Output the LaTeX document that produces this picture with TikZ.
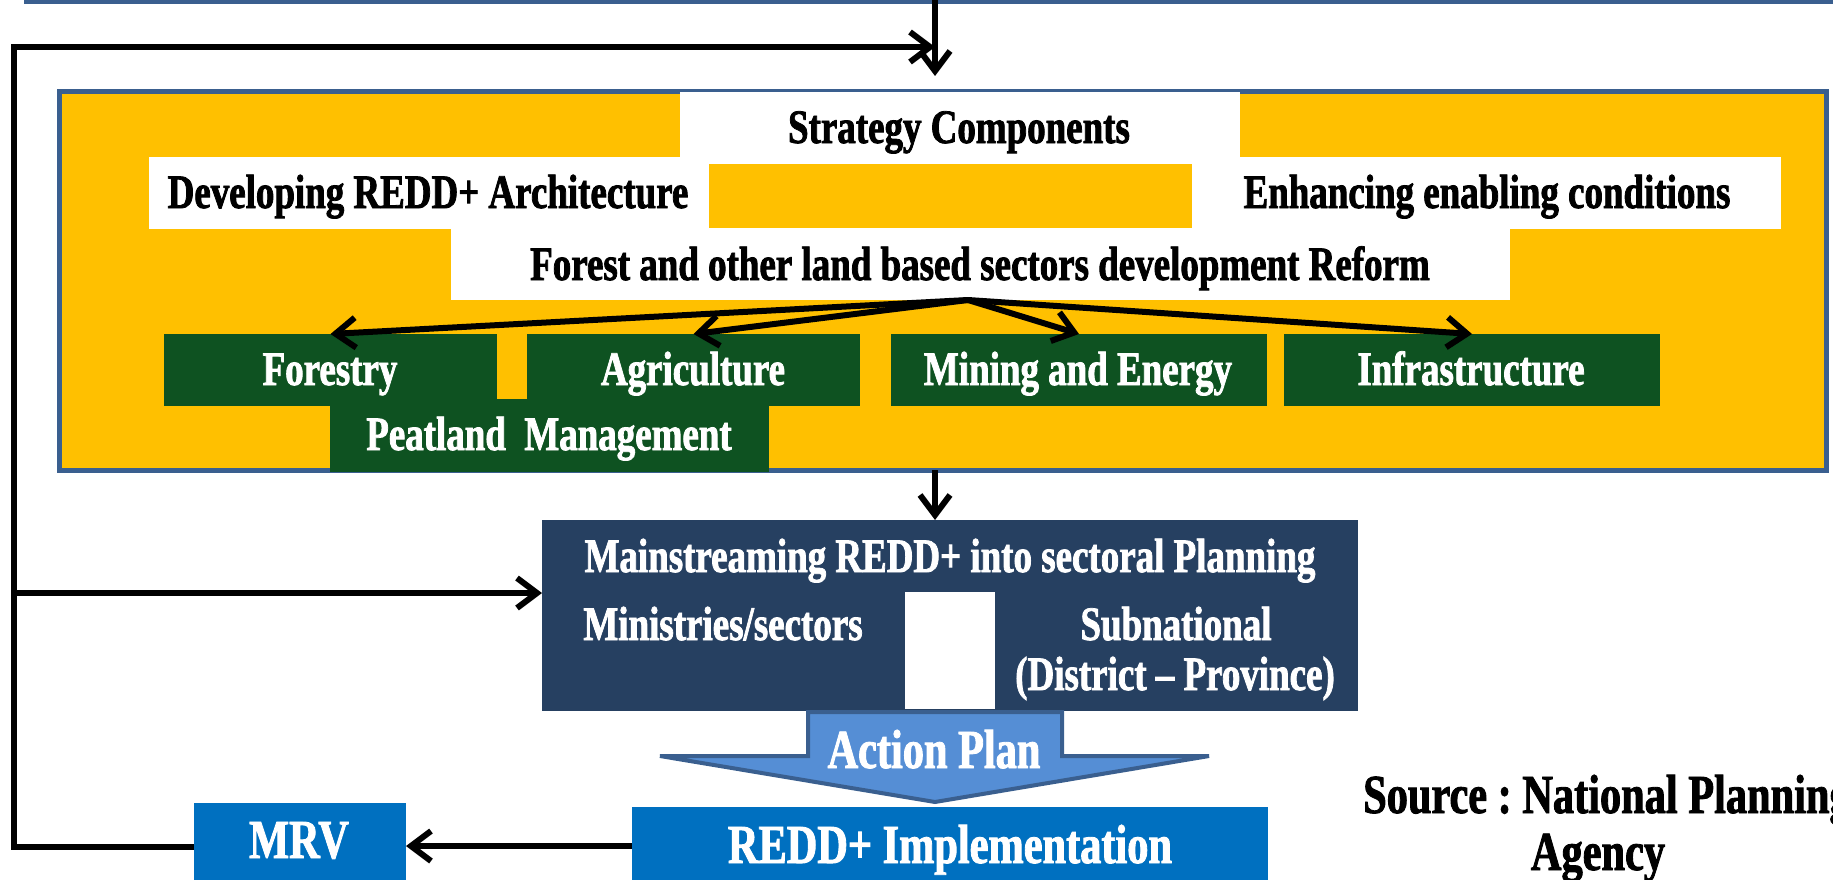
\documentclass[tikz,border=0pt]{standalone}
\usepackage{fontspec}
\setmainfont{Liberation Serif}[FakeStretch=0.77, BoldFeatures={FakeBold=1.6}]
\usetikzlibrary{arrows.meta}
\frenchspacing
\definecolor{yel}{HTML}{FFC000}
\definecolor{bordblue}{HTML}{3A5F8F}
\definecolor{grn}{HTML}{0E5221}
\definecolor{navy}{HTML}{264061}
\definecolor{apblue}{HTML}{558ED5}
\definecolor{implblue}{HTML}{0070C0}
\tikzset{
  rbox/.style={rectangle, inner sep=0pt, outer sep=0pt, anchor=north west},
  whitebox/.style={rbox, fill=white},
  greenbox/.style={rbox, fill=grn},
  lbl/.style={inner sep=0pt, anchor=base, font=\bfseries\fontsize{48}{50}\selectfont},
  biglbl/.style={inner sep=0pt, anchor=base, font=\bfseries\fontsize{55}{57}\selectfont},
  wlbl/.style={lbl, text=white},
  wbiglbl/.style={biglbl, text=white},
  arr/.style={line width=6pt, -{Straight Barb[length=20pt,width=30pt]}},
}
\begin{document}
\begin{tikzpicture}[x=1pt,y=-1pt]
\useasboundingbox (0,0) rectangle (1833,880);
% top box edge (cut off)
\draw[bordblue, line width=4pt] (26,-20) rectangle (1860,2);
% yellow strategy panel
\node[rbox, fill=yel, draw=bordblue, line width=5pt, minimum width=1767pt, minimum height=378pt] (panel) at (59,92) {};
\node[whitebox, minimum width=560pt, minimum height=65pt] (stratbox) at (680,92) {};
\node[whitebox, minimum width=1632pt, minimum height=72pt] (midbox) at (149,157) {};
\node[rbox, fill=yel, minimum width=483pt, minimum height=64pt] (midgap) at (709,164) {};
\node[whitebox, minimum width=1059pt, minimum height=71pt] (forestbox) at (451,229) {};
\node[greenbox, minimum width=439pt, minimum height=73pt] (peat) at (330,399) {};
\node[greenbox, minimum width=333pt, minimum height=72pt] (forestry) at (164,334) {};
\node[greenbox, minimum width=333pt, minimum height=72pt] (agri) at (527,334) {};
\node[greenbox, minimum width=376pt, minimum height=72pt] (mining) at (891,334) {};
\node[greenbox, minimum width=376pt, minimum height=72pt] (infra) at (1284,334) {};
% texts in panel
\node[lbl] (tstrat) at (959,143) {Strategy Components};
\node[lbl] (tdev) at (428,208) {Developing REDD+ Architecture};
\node[lbl] (tenh) at (1487,208) {Enhancing enabling conditions};
\node[lbl] (tforest) at (980,280) {Forest and other land based sectors development Reform};
\node[wlbl] (tforestry) at (330,385) {Forestry};
\node[wlbl] (tagri) at (693,385) {Agriculture};
\node[wlbl] (tmining) at (1078,385) {Mining and Energy};
\node[wlbl] (tinfra) at (1471,385) {Infrastructure};
\node[wlbl] (tpeat) at (549,450) {Peatland\ \ Management};
% mainstreaming box
\node[rbox, fill=navy, minimum width=816pt, minimum height=191pt] (mainbox) at (542,520) {};
\node[whitebox, minimum width=90pt, minimum height=117pt] (gapbox) at (905,592) {};
\node[wlbl] (tmain) at (950,572) {Mainstreaming REDD+ into sectoral Planning};
\node[wlbl] (tmin) at (723,640) {Ministries/sectors};
\node[wlbl] (tsub) at (1176,640) {Subnational};
\node[wlbl] (tdist) at (1175,690) {(District -- Province)};
% action plan block arrow
\draw[fill=apblue, draw=bordblue, line width=4pt, line join=miter]
  (808,712) -- (1062,712) -- (1062,756) -- (1209,756) -- (935,802) -- (660,756) -- (808,756) -- cycle;
\node[wbiglbl] (tap) at (934,768) {Action Plan};
% bottom boxes
\node[rbox, fill=implblue, minimum width=636pt, minimum height=90pt] (impl) at (632,807) {};
\node[rbox, fill=implblue, minimum width=212pt, minimum height=90pt] (mrv) at (194,803) {};
\node[wbiglbl] (timpl) at (950,863) {REDD+ Implementation};
\node[wbiglbl] (tmrv) at (299,858) {MRV};
% source
\node[biglbl, anchor=base west] (src1) at (1363,813) {Source : National Planning};
\node[biglbl] (src2) at (1598,870) {Agency};
% connectors
\coordinate (topin) at (935,0);
\coordinate (toptip) at (935,76);
\coordinate (loopBL) at (14,847);
\coordinate (loopTL) at (14,47);
\coordinate (loopTR) at (935,47);
\coordinate (branch) at (14,593);
\coordinate (fsrc) at (968,300);
\draw[arr] (topin) -- (toptip);
\draw[arr, line join=miter] (mrv.west |- loopBL) -- (loopBL) -- (loopTL) -- (loopTR);
\draw[arr] (branch) -- (mainbox.west |- branch);
\draw[arr] (fsrc) -- (forestry.north);
\draw[arr] (fsrc) -- (agri.north);
\draw[arr] (fsrc) -- (mining.north);
\draw[arr] (fsrc) -- (infra.north);
\draw[arr] (panel.south -| toptip) -- (mainbox.north -| toptip);
\draw[arr] (impl.west |- 0,846) -- (mrv.east |- 0,846);
\end{tikzpicture}
\end{document}
